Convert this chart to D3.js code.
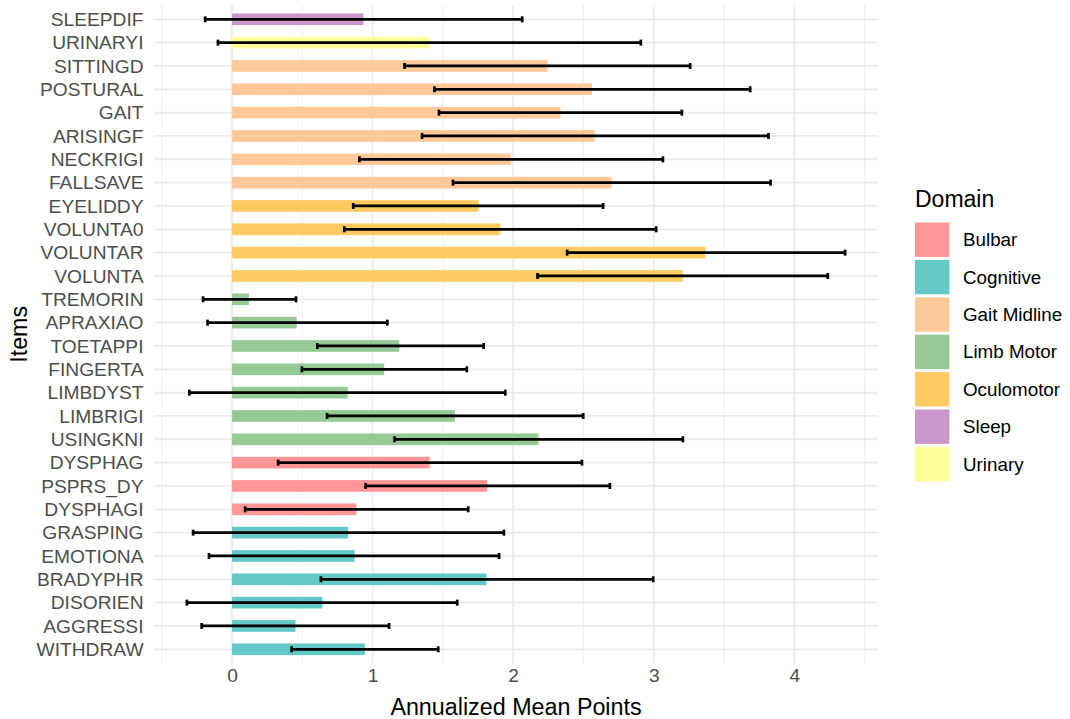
<!DOCTYPE html>
<html>
<head>
<meta charset="utf-8">
<script src="https://cdn.jsdelivr.net/npm/d3@7"></script>
<style>
  html, body { margin: 0; padding: 0; background: #ffffff; }
  svg { display: block; font-family: "Liberation Sans", Arial, Helvetica, sans-serif; }
</style>
</head>
<body>
<svg id="chart" width="1070" height="719"></svg>
<script>
// Items, top to bottom
const items = ["SLEEPDIF","URINARYI","SITTINGD","POSTURAL","GAIT","ARISINGF","NECKRIGI","FALLSAVE",
  "EYELIDDY","VOLUNTA0","VOLUNTAR","VOLUNTA","TREMORIN","APRAXIAO","TOETAPPI","FINGERTA","LIMBDYST",
  "LIMBRIGI","USINGKNI","DYSPHAG","PSPRS_DY","DYSPHAGI","GRASPING","EMOTIONA","BRADYPHR","DISORIEN",
  "AGGRESSI","WITHDRAW"];

// Domain of each item
const domains = ["Sleep","Urinary","Gait Midline","Gait Midline","Gait Midline","Gait Midline","Gait Midline","Gait Midline",
  "Oculomotor","Oculomotor","Oculomotor","Oculomotor","Limb Motor","Limb Motor","Limb Motor","Limb Motor","Limb Motor",
  "Limb Motor","Limb Motor","Bulbar","Bulbar","Bulbar","Cognitive","Cognitive","Cognitive","Cognitive",
  "Cognitive","Cognitive"];

// Annualized mean change per item
const means = [0.935,1.403,2.244,2.560,2.337,2.579,1.983,2.700,
  1.754,1.908,3.368,3.207,0.120,0.460,1.190,1.082,0.823,
  1.585,2.180,1.406,1.815,0.884,0.826,0.872,1.810,0.642,
  0.451,0.945];

// Lower and upper interval bounds
const lower = [-0.191,-0.100,1.227,1.440,1.472,1.352,0.906,1.572,
  0.862,0.799,2.384,2.173,-0.206,-0.174,0.607,0.497,-0.304,
  0.676,1.156,0.328,0.950,0.093,-0.277,-0.164,0.632,-0.321,
  -0.216,0.424];
const upper = [2.064,2.908,3.259,3.686,3.200,3.816,3.065,3.831,
  2.640,3.017,4.361,4.238,0.455,1.105,1.790,1.670,1.944,
  2.498,3.207,2.489,2.688,1.680,1.934,1.900,2.996,1.602,
  1.117,1.467];

const legendDomains = ["Bulbar","Cognitive","Gait Midline","Limb Motor","Oculomotor","Sleep","Urinary"];
const domainColors = ["#FF9697","#62C9C6","#FFC999","#97C997","#FFCA62","#C997C9","#FFFF99"];
const xTicks = [0,1,2,3,4];
const xMinorTicks = [-0.5,0.5,1.5,2.5,3.5,4.5];

const rows = items.map((name, i) => ({name, domain: domains[i], mean: means[i], lo: lower[i], hi: upper[i]}));

const svg = d3.select("#chart");
const panel = {left: 154, right: 878, top: 5.3, bottom: 663.3};

// x: data range with 5% expansion on each side
const dmin = d3.min(rows, d => Math.min(0, d.lo));
const dmax = d3.max(rows, d => Math.max(d.mean, d.hi));
const pad = (dmax - dmin) * 0.05;
const x = d3.scaleLinear().domain([dmin - pad, dmax + pad]).range([panel.left, panel.right]);

const y = d3.scalePoint().domain(items).range([panel.top, panel.bottom]).padding(0.6);
const barH = y.step() * 0.5;

const color = d3.scaleOrdinal().domain(legendDomains).range(domainColors);

// grid
const grid = svg.append("g");
grid.selectAll("line.minor").data(xMinorTicks).join("line")
  .attr("x1", d => x(d)).attr("x2", d => x(d))
  .attr("y1", panel.top).attr("y2", panel.bottom)
  .attr("stroke", "#EBEBEB").attr("stroke-width", 0.9);
grid.selectAll("line.majx").data(xTicks).join("line")
  .attr("x1", d => x(d)).attr("x2", d => x(d))
  .attr("y1", panel.top).attr("y2", panel.bottom)
  .attr("stroke", "#EBEBEB").attr("stroke-width", 1.8);
grid.selectAll("line.majy").data(items).join("line")
  .attr("x1", panel.left).attr("x2", panel.right)
  .attr("y1", d => y(d)).attr("y2", d => y(d))
  .attr("stroke", "#EBEBEB").attr("stroke-width", 1.8);

// bars
svg.append("g").selectAll("rect").data(rows).join("rect")
  .attr("x", d => Math.min(x(0), x(d.mean)))
  .attr("width", d => Math.abs(x(d.mean) - x(0)))
  .attr("y", d => y(d.name) - barH / 2)
  .attr("height", barH)
  .attr("fill", d => color(d.domain));

// error bars
const eb = svg.append("g").attr("stroke", "#000").attr("stroke-width", 2.7);
eb.selectAll("line.h").data(rows).join("line")
  .attr("x1", d => x(d.lo)).attr("x2", d => x(d.hi))
  .attr("y1", d => y(d.name)).attr("y2", d => y(d.name));
const capH = 3;
eb.selectAll("line.l").data(rows).join("line")
  .attr("x1", d => x(d.lo)).attr("x2", d => x(d.lo))
  .attr("y1", d => y(d.name) - capH).attr("y2", d => y(d.name) + capH);
eb.selectAll("line.r").data(rows).join("line")
  .attr("x1", d => x(d.hi)).attr("x2", d => x(d.hi))
  .attr("y1", d => y(d.name) - capH).attr("y2", d => y(d.name) + capH);

// y axis
const yAxis = svg.append("g").attr("transform", `translate(${panel.left - 10.5},0)`)
  .call(d3.axisLeft(y).tickSize(0).tickPadding(0));
yAxis.select(".domain").remove();
yAxis.selectAll("text").attr("fill", "#4D4D4D").style("font-size", "19.2px")
  .style("font-family", "'Liberation Sans', Arial, sans-serif");

// x axis
const xAxis = svg.append("g").attr("transform", `translate(0,${panel.bottom + 5})`)
  .call(d3.axisBottom(x).tickValues(xTicks).tickFormat(d3.format("d")).tickSize(0).tickPadding(0));
xAxis.select(".domain").remove();
xAxis.selectAll("text").attr("fill", "#4D4D4D").style("font-size", "19.2px")
  .style("font-family", "'Liberation Sans', Arial, sans-serif");

// axis titles
svg.append("text").attr("x", (panel.left + panel.right) / 2).attr("y", 715)
  .attr("text-anchor", "middle").style("font-size", "23.3px").attr("fill", "#000")
  .text("Annualized Mean Points");
svg.append("text").attr("transform", `translate(27,${(panel.top + panel.bottom) / 2}) rotate(-90)`)
  .attr("text-anchor", "middle").style("font-size", "23.3px").attr("fill", "#000")
  .text("Items");

// legend
const lg = svg.append("g").attr("transform", "translate(915,0)");
lg.append("text").attr("x", 0).attr("y", 207).style("font-size", "23px").attr("fill", "#000").text("Domain");
const keyStep = 37.4, keyTop = 222.5, keySize = 34.4;
const keys = lg.selectAll("g.key").data(legendDomains).join("g")
  .attr("transform", (d, i) => `translate(0,${keyTop + i * keyStep})`);
keys.append("rect").attr("width", keySize).attr("height", keySize).attr("fill", d => color(d));
keys.append("text").attr("x", 48).attr("y", keySize / 2).attr("dy", "0.35em")
  .style("font-size", "18.8px").attr("fill", "#000").text(d => d);
</script>
</body>
</html>
